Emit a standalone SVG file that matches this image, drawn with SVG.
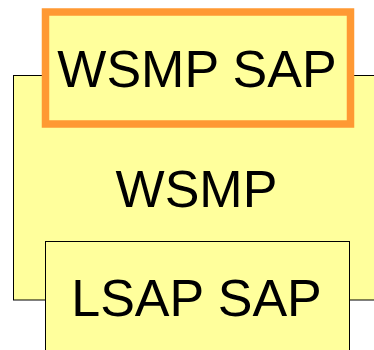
<svg xmlns="http://www.w3.org/2000/svg" width="374" height="350" viewBox="0 0 374 350">
  <style>
    .box { fill: #ffff9c; stroke: #000; stroke-width: 1; }
    .sap { fill: #ffff9c; stroke: #ff9933; stroke-width: 7.5; }
    .label { font-family: "Liberation Sans", Arial, sans-serif; font-size: 52px; fill: #000; text-anchor: middle; }
  </style>
  <rect width="374" height="350" fill="#fff"/>
  <!-- WSMP entity, running off the right edge -->
  <g id="wsmp">
    <rect class="box" x="13.5" y="75.5" width="400" height="224.5"/>
    <text class="label" x="196.5" y="206.5">WSMP</text>
  </g>
  <!-- upper service access point, highlighted -->
  <g id="wsmp-sap">
    <rect class="sap" x="45.5" y="12" width="305" height="112"/>
    <text class="label" x="197" y="86.5">WSMP SAP</text>
  </g>
  <!-- lower service access point -->
  <g id="lsap-sap">
    <rect class="box" x="45.5" y="241.5" width="304" height="120"/>
    <text class="label" x="196.5" y="316">LSAP SAP</text>
  </g>
</svg>
